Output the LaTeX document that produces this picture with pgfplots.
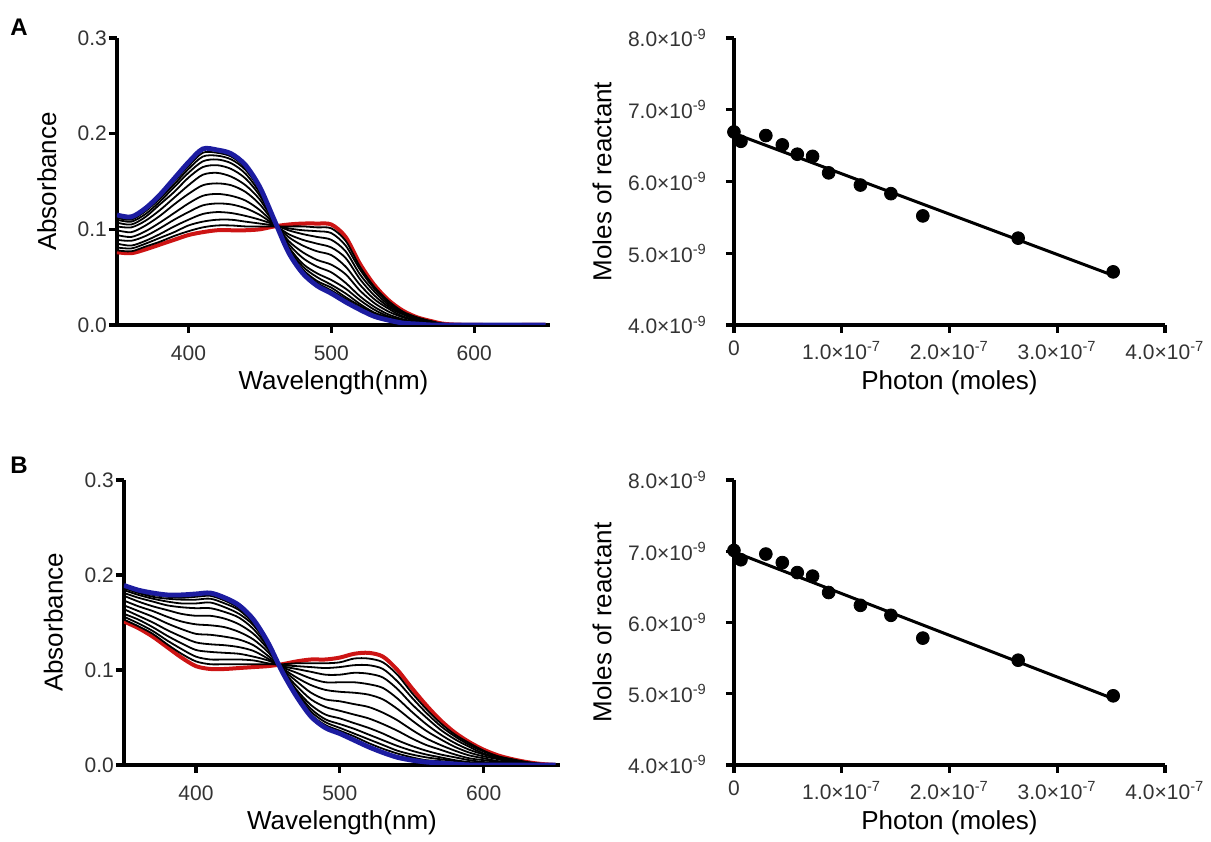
\documentclass[border=0pt]{standalone}
\usepackage{fontspec}
\setmainfont{Liberation Sans}
\usepackage{pgfplots}
\usepackage{pgfplotstable}
\pgfplotsset{compat=1.18}

\definecolor{specblue}{RGB}{28,28,160}
\definecolor{specred}{RGB}{205,20,20}

% panel A spectra: B = first scan (blue), R = last scan (red), c1..c11 in between
\pgfplotstableread{
lam B c1 c2 c3 c4 c5 c6 c7 c8 c9 c10 c11 R
350 0.115 0.113 0.112 0.110 0.107 0.103 0.099 0.094 0.089 0.085 0.081 0.078 0.076
360 0.113 0.111 0.110 0.108 0.105 0.102 0.097 0.092 0.088 0.083 0.080 0.077 0.075
370 0.122 0.120 0.119 0.116 0.113 0.109 0.104 0.098 0.093 0.088 0.085 0.082 0.079
380 0.136 0.134 0.132 0.129 0.126 0.120 0.114 0.107 0.101 0.095 0.091 0.087 0.084
390 0.153 0.150 0.147 0.144 0.139 0.133 0.126 0.117 0.110 0.103 0.097 0.093 0.089
400 0.170 0.166 0.163 0.159 0.154 0.146 0.137 0.127 0.118 0.110 0.104 0.098 0.094
410 0.184 0.180 0.176 0.171 0.165 0.157 0.146 0.135 0.125 0.116 0.108 0.102 0.097
420 0.183 0.180 0.177 0.173 0.167 0.159 0.148 0.137 0.127 0.118 0.110 0.104 0.099
430 0.179 0.176 0.173 0.169 0.163 0.155 0.146 0.135 0.126 0.117 0.110 0.104 0.099
440 0.167 0.164 0.162 0.158 0.153 0.146 0.139 0.130 0.122 0.114 0.108 0.103 0.099
450 0.144 0.142 0.141 0.138 0.135 0.131 0.126 0.120 0.115 0.110 0.106 0.103 0.100
460 0.110 0.110 0.109 0.109 0.109 0.108 0.107 0.106 0.105 0.105 0.104 0.103 0.103
470 0.076 0.077 0.078 0.080 0.082 0.085 0.088 0.092 0.095 0.099 0.101 0.103 0.105
480 0.054 0.056 0.058 0.061 0.064 0.070 0.076 0.083 0.089 0.095 0.099 0.103 0.106
490 0.041 0.044 0.046 0.050 0.054 0.061 0.068 0.077 0.085 0.092 0.098 0.102 0.106
500 0.033 0.036 0.039 0.042 0.047 0.055 0.063 0.073 0.081 0.089 0.096 0.101 0.105
510 0.024 0.027 0.029 0.033 0.038 0.044 0.053 0.061 0.070 0.077 0.083 0.088 0.092
520 0.016 0.018 0.020 0.022 0.026 0.030 0.036 0.042 0.048 0.053 0.058 0.061 0.064
530 0.009 0.010 0.012 0.013 0.016 0.019 0.023 0.027 0.031 0.035 0.038 0.040 0.042
540 0.005 0.006 0.007 0.008 0.009 0.011 0.014 0.017 0.019 0.021 0.023 0.025 0.026
550 0.002 0.003 0.003 0.004 0.005 0.006 0.008 0.009 0.011 0.012 0.013 0.014 0.015
560 0.001 0.001 0.002 0.002 0.002 0.003 0.004 0.005 0.006 0.006 0.007 0.008 0.008
570 0.000 0.000 0.000 0.001 0.001 0.001 0.002 0.002 0.003 0.003 0.003 0.004 0.004
580 0.000 0.000 0.000 0.000 0.000 0.000 0.000 0.001 0.001 0.001 0.001 0.001 0.001
600 0 0 0 0 0 0 0 0 0 0 0 0 0
650 0 0 0 0 0 0 0 0 0 0 0 0 0
}\specA

% panel B spectra
\pgfplotstableread{
lam B c1 c2 c3 c4 c5 c6 c7 c8 c9 c10 c11 R
350 0.189 0.188 0.186 0.184 0.181 0.178 0.173 0.168 0.164 0.159 0.156 0.153 0.151
360 0.184 0.182 0.181 0.179 0.176 0.172 0.167 0.162 0.157 0.153 0.149 0.146 0.144
370 0.181 0.179 0.177 0.175 0.172 0.167 0.162 0.156 0.150 0.145 0.141 0.138 0.135
380 0.179 0.177 0.175 0.172 0.168 0.163 0.156 0.149 0.142 0.136 0.131 0.127 0.124
390 0.179 0.176 0.174 0.170 0.166 0.159 0.151 0.143 0.135 0.128 0.122 0.117 0.113
400 0.180 0.177 0.174 0.170 0.165 0.157 0.148 0.138 0.129 0.121 0.114 0.109 0.104
410 0.181 0.178 0.175 0.171 0.165 0.157 0.147 0.137 0.127 0.119 0.111 0.106 0.101
420 0.176 0.173 0.170 0.166 0.161 0.154 0.145 0.135 0.126 0.118 0.111 0.106 0.101
430 0.168 0.165 0.163 0.159 0.155 0.148 0.140 0.132 0.124 0.117 0.111 0.106 0.102
440 0.153 0.151 0.149 0.147 0.143 0.138 0.132 0.126 0.120 0.114 0.110 0.106 0.103
450 0.129 0.128 0.127 0.126 0.124 0.122 0.119 0.115 0.112 0.110 0.107 0.106 0.104
460 0.098 0.098 0.099 0.099 0.100 0.100 0.101 0.102 0.103 0.104 0.105 0.106 0.106
470 0.072 0.074 0.075 0.077 0.079 0.083 0.088 0.092 0.097 0.101 0.104 0.107 0.109
480 0.051 0.053 0.056 0.059 0.063 0.069 0.076 0.084 0.091 0.098 0.103 0.107 0.111
490 0.039 0.042 0.045 0.048 0.053 0.061 0.069 0.079 0.087 0.095 0.102 0.107 0.111
500 0.033 0.036 0.039 0.043 0.049 0.057 0.067 0.077 0.087 0.095 0.103 0.108 0.113
510 0.026 0.030 0.033 0.038 0.044 0.053 0.064 0.076 0.087 0.097 0.105 0.112 0.117
520 0.019 0.023 0.027 0.032 0.039 0.049 0.061 0.074 0.085 0.096 0.105 0.112 0.118
530 0.013 0.017 0.021 0.026 0.033 0.043 0.055 0.069 0.081 0.092 0.101 0.108 0.114
540 0.008 0.012 0.015 0.020 0.026 0.036 0.047 0.059 0.070 0.080 0.088 0.095 0.100
550 0.005 0.008 0.011 0.015 0.020 0.028 0.037 0.047 0.056 0.064 0.071 0.076 0.081
560 0.003 0.005 0.008 0.011 0.015 0.021 0.028 0.036 0.043 0.050 0.055 0.059 0.063
570 0.002 0.004 0.006 0.008 0.011 0.016 0.021 0.027 0.032 0.037 0.041 0.044 0.047
580 0.001 0.002 0.004 0.005 0.008 0.011 0.015 0.019 0.023 0.027 0.030 0.032 0.034
590 0.000 0.001 0.002 0.003 0.005 0.007 0.010 0.013 0.016 0.019 0.021 0.023 0.024
600 0.000 0.001 0.001 0.002 0.003 0.005 0.007 0.009 0.011 0.012 0.014 0.015 0.016
610 0.000 0.000 0.001 0.001 0.002 0.003 0.004 0.006 0.007 0.008 0.009 0.009 0.010
620 0.000 0.000 0.000 0.001 0.001 0.002 0.003 0.003 0.004 0.005 0.005 0.006 0.006
630 0.000 0.000 0.000 0.000 0.001 0.001 0.001 0.002 0.002 0.002 0.003 0.003 0.003
640 0.000 0.000 0.000 0.000 0.000 0.000 0.000 0.001 0.001 0.001 0.001 0.001 0.001
650 0 0 0 0 0 0 0 0 0 0 0 0 0
}\specB

% actinometry points: photons (mol) vs moles of reactant
\pgfplotstableread{
ph mol
0.000e-7 6.69e-9
0.065e-7 6.56e-9
0.296e-7 6.64e-9
0.449e-7 6.51e-9
0.588e-7 6.38e-9
0.730e-7 6.35e-9
0.879e-7 6.12e-9
1.174e-7 5.95e-9
1.457e-7 5.83e-9
1.753e-7 5.52e-9
2.638e-7 5.21e-9
3.520e-7 4.74e-9
}\actA

\pgfplotstableread{
ph mol
0.000e-7 7.01e-9
0.065e-7 6.88e-9
0.296e-7 6.96e-9
0.449e-7 6.84e-9
0.588e-7 6.70e-9
0.730e-7 6.65e-9
0.879e-7 6.42e-9
1.174e-7 6.24e-9
1.457e-7 6.10e-9
1.753e-7 5.78e-9
2.638e-7 5.47e-9
3.520e-7 4.97e-9
}\actB

\pgfplotsset{
  panel/.style={
    scale only axis,
    axis x line*=bottom,
    axis y line*=left,
    axis line style={line width=1.6pt},
    tick style={black, line width=1.6pt},
    tick align=outside,
    major tick length=4pt,
    scaled ticks=false,
    tick label style={font=\fontsize{10.5}{12}\selectfont, text=black!80},
    label style={font=\fontsize{13}{15}\selectfont},
  },
  spec/.style={
    panel, no markers,
    xmin=350, xmax=653, ymin=0, ymax=0.3,
    xtick={400,500,600}, xticklabels={400,500,600},
    ytick={0,0.1,0.2,0.3}, yticklabels={0.0,0.1,0.2,0.3},
    xticklabel style={yshift=-3pt},
    yticklabel style={xshift=2.5pt},
    xlabel={Wavelength(nm)}, ylabel={Absorbance},
    xlabel style={at={(axis description cs:0.5,-0.202)}, anchor=center},
    ylabel style={at={(axis description cs:-0.162,0.5)}, anchor=center},
  },
  act/.style={
    panel, clip=false,
    width=215.5pt,
    xmin=0, xmax=4e-7, ymin=4e-9, ymax=8e-9,
    xtick={0,1e-7,2e-7,3e-7,4e-7},
    xticklabels={0,1.0×10\textsuperscript{-7},2.0×10\textsuperscript{-7},3.0×10\textsuperscript{-7},4.0×10\textsuperscript{-7}},
    ytick={4e-9,5e-9,6e-9,7e-9,8e-9},
    yticklabels={4.0×10\textsuperscript{-9},5.0×10\textsuperscript{-9},6.0×10\textsuperscript{-9},7.0×10\textsuperscript{-9},8.0×10\textsuperscript{-9}},
    xticklabel style={yshift=-0.5pt},
    yticklabel style={xshift=-6pt},
    xlabel={Photon (moles)}, ylabel={Moles of reactant},
    xlabel style={at={(axis description cs:0.5,-0.202)}, anchor=center},
    ylabel style={at={(axis description cs:-0.306,0.5)}, anchor=center},
  },
}

\begin{document}
\begin{tikzpicture}
\path (0,0) rectangle (605.5pt,420.5pt);
\node[font=\bfseries\fontsize{12}{14}\selectfont] at (9.5pt,407pt) {A};
\node[font=\bfseries\fontsize{12}{14}\selectfont] at (9.5pt,188pt) {B};

% A, spectra
\begin{axis}[spec, at={(58.5pt,258pt)}, anchor=south west, width=216.5pt, height=143.5pt]
\addplot[specred, line width=2pt, smooth] table[x=lam,y=R]{\specA};
\pgfplotsinvokeforeach{1,...,11}{
  \addplot[black, line width=0.9pt, smooth] table[x=lam,y=c#1]{\specA};
}
\addplot[specblue, line width=2.4pt, smooth] table[x=lam,y=B]{\specA};
\end{axis}

% A, actinometry
\begin{axis}[act, at={(367pt,258pt)}, anchor=south west, height=143.5pt]
\addplot[only marks, mark=*, mark size=3.2pt, black] table[x=ph,y=mol]{\actA};
\addplot[black, line width=1.5pt] coordinates {(0,6.67e-9) (3.52e-7,4.69e-9)};
\end{axis}

% B, spectra
\begin{axis}[spec, at={(62pt,38pt)}, anchor=south west, width=218pt, height=142.5pt]
\addplot[specred, line width=2pt, smooth] table[x=lam,y=R]{\specB};
\pgfplotsinvokeforeach{1,...,11}{
  \addplot[black, line width=0.9pt, smooth] table[x=lam,y=c#1]{\specB};
}
\addplot[specblue, line width=2.4pt, smooth] table[x=lam,y=B]{\specB};
\end{axis}

% B, actinometry
\begin{axis}[act, at={(367pt,38pt)}, anchor=south west, height=142.5pt]
\addplot[only marks, mark=*, mark size=3.2pt, black] table[x=ph,y=mol]{\actB};
\addplot[black, line width=1.5pt] coordinates {(0,6.99e-9) (3.52e-7,4.93e-9)};
\end{axis}
\end{tikzpicture}
\end{document}
